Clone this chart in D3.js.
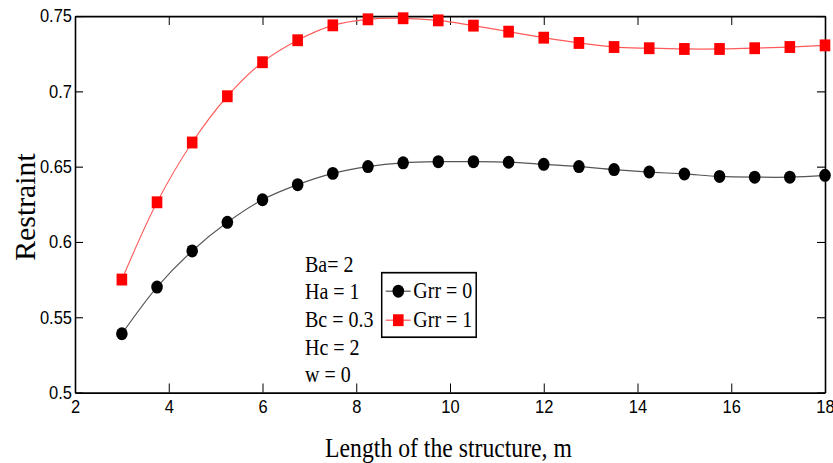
<!DOCTYPE html>
<html>
<head>
<meta charset="utf-8">
<script src="https://cdn.jsdelivr.net/npm/d3@7"></script>
<style>
    body { margin: 0; background: #fff; }
    #chart { width: 833px; height: 463px; }
</style>
</head>
<body>
<div id="chart"></div>
<script>
const lengths = [3, 3.75, 4.5, 5.25, 6, 6.75, 7.5, 8.25, 9, 9.75, 10.5, 11.25, 12, 12.75, 13.5, 14.25, 15, 15.75, 16.5, 17.25, 18];
const grr0 = [0.539, 0.570, 0.594, 0.613, 0.628, 0.638, 0.6455, 0.650, 0.6525, 0.6533, 0.6533, 0.6529, 0.6515, 0.650, 0.648, 0.6464, 0.6451, 0.6435, 0.643, 0.643, 0.6442];
const grr1 = [0.575, 0.6263, 0.666, 0.6967, 0.7193, 0.7339, 0.7438, 0.7478, 0.7485, 0.7471, 0.7436, 0.7396, 0.7356, 0.7321, 0.7294, 0.7286, 0.7281, 0.7281, 0.7286, 0.7294, 0.7305];
const seriesNames = ['Grr = 0', 'Grr = 1'];
const xTicks = [2, 4, 6, 8, 10, 12, 14, 16, 18];
const yTicks = [0.5, 0.55, 0.6, 0.65, 0.7, 0.75];
const notes = ['Ba= 2', 'Ha = 1', 'Bc = 0.3', 'Hc = 2', 'w = 0'];

// the reference is a bit stretched vertically, so draw in a squashed box
const SY = 1.12;
const W = 833, H = 463 / SY;
const sansFont = '"Liberation Sans", Arial, sans-serif';
const serifFont = '"Liberation Serif", "Times New Roman", serif';

const svg = d3.select('#chart').append('svg')
    .attr('width', 833)
    .attr('height', 463)
    .attr('viewBox', `0 0 ${W} ${H}`)
    .attr('preserveAspectRatio', 'none');

const x = d3.scaleLinear().domain([2, 18]).range([75, 825]);
const y = d3.scaleLinear().domain([0.5, 0.75]).range([392.5 / SY, 16 / SY]);

const fmt = d => String(+d.toFixed(2));

function styleAxis(g) {
    g.select('.domain').attr('stroke', '#000').attr('stroke-width', 1.6);
    g.selectAll('.tick line').attr('stroke', '#000').attr('stroke-width', 1);
    g.selectAll('.tick text')
        .attr('fill', '#000')
        .style('font-family', sansFont)
        .style('font-size', '16.5px');
}

svg.append('g')
    .attr('transform', `translate(0,${y(0.5)})`)
    .call(d3.axisBottom(x).tickValues(xTicks).tickFormat(fmt).tickSizeInner(-8).tickSizeOuter(0).tickPadding(7))
    .call(styleAxis);

svg.append('g')
    .attr('transform', `translate(0,${y(0.75)})`)
    .call(d3.axisTop(x).tickValues(xTicks).tickFormat('').tickSizeInner(-8).tickSizeOuter(0))
    .call(styleAxis);

svg.append('g')
    .attr('transform', `translate(${x(2)},0)`)
    .call(d3.axisLeft(y).tickValues(yTicks).tickFormat(fmt).tickSizeInner(-8).tickSizeOuter(0).tickPadding(3))
    .call(styleAxis);

svg.append('g')
    .attr('transform', `translate(${x(18)},0)`)
    .call(d3.axisRight(y).tickValues(yTicks).tickFormat('').tickSizeInner(-8).tickSizeOuter(0))
    .call(styleAxis);

// axis titles
svg.append('text')
    .attr('x', 448.5)
    .attr('y', 457 / SY)
    .attr('text-anchor', 'middle')
    .style('font-family', serifFont)
    .style('font-size', '23.7px')
    .text('Length of the structure, m');

svg.append('text')
    .attr('transform', `translate(35,${207 / SY}) rotate(-90)`)
    .attr('text-anchor', 'middle')
    .attr('textLength', 96)
    .attr('lengthAdjust', 'spacingAndGlyphs')
    .style('font-family', serifFont)
    .style('font-size', '29px')
    .text('Restraint');

const series = [
    {name: seriesNames[0], values: grr0, line: '#555', fill: '#000', shape: 'circle'},
    {name: seriesNames[1], values: grr1, line: '#ff5a5a', fill: '#ff0000', shape: 'square'}
];

const line = d3.line()
    .x((d, i) => x(lengths[i]))
    .y(d => y(d))
    .curve(d3.curveCatmullRom.alpha(0.5));

function drawMarker(g, s, cx, cy) {
    if (s.shape === 'circle') {
        g.append('circle').attr('cx', cx).attr('cy', cy).attr('r', 5.8).attr('fill', s.fill);
    } else {
        g.append('rect').attr('x', cx - 5.3).attr('y', cy - 5.3)
            .attr('width', 10.6).attr('height', 10.6).attr('fill', s.fill);
    }
}

series.forEach(s => {
    svg.append('path')
        .datum(s.values)
        .attr('fill', 'none')
        .attr('stroke', s.line)
        .attr('stroke-width', 1.1)
        .attr('d', line);
    const g = svg.append('g');
    s.values.forEach((v, i) => drawMarker(g, s, x(lengths[i]), y(v)));
});

// parameter notes
svg.append('g')
    .selectAll('text')
    .data(notes)
    .enter().append('text')
    .attr('x', 305)
    .attr('y', (d, i) => 271.7 / SY + i * 24.7)
    .style('font-family', serifFont)
    .style('font-size', '20px')
    .text(d => d);

// legend
const legend = svg.append('g').attr('transform', `translate(381.7,${272.7 / SY})`);
legend.append('rect')
    .attr('width', 94.5)
    .attr('height', 64.5 / SY)
    .attr('fill', '#fff')
    .attr('stroke', '#000')
    .attr('stroke-width', 1.5);

series.forEach((s, i) => {
    const cy = (18.5 + i * 29) / SY;
    legend.append('line')
        .attr('x1', 4).attr('x2', 29)
        .attr('y1', cy).attr('y2', cy)
        .attr('stroke', s.line)
        .attr('stroke-width', 1.1);
    drawMarker(legend, s, 16.6, cy);
    legend.append('text')
        .attr('x', 31.6)
        .attr('y', cy + 6.5)
        .style('font-family', serifFont)
        .style('font-size', '20px')
        .text(s.name);
});
</script>
</body>
</html>
